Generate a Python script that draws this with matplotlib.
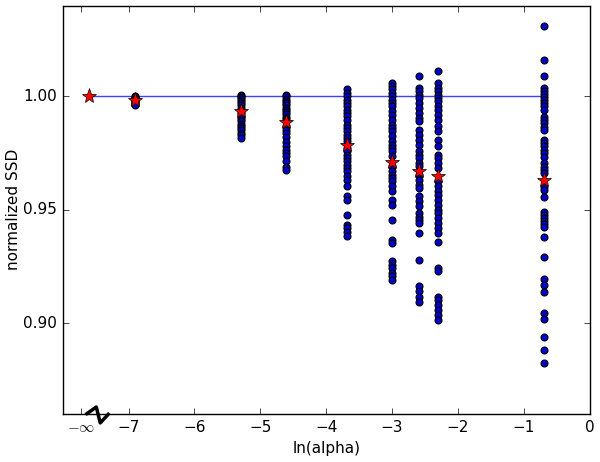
import numpy as np
import matplotlib
matplotlib.use('Agg')
import matplotlib.pyplot as plt
import matplotlib.transforms as mtransforms

# ln(alpha) de cada columna (alpha = 0 se dibuja en la posición de -inf)
x_inf = -7.6
x_cols = [np.log(0.001), np.log(0.005), np.log(0.01), np.log(0.025),
          np.log(0.05), np.log(0.075), np.log(0.1), np.log(0.5)]

# SSD normalizado de cada corrida, por columna
ssd_0001 = [1.000, 0.9998, 0.9995, 0.999, 0.9985, 0.998, 0.9975, 0.997, 0.9965, 0.996]
ssd_0005 = [1.0005, 1.000, 0.9995, 0.999, 0.998, 0.997, 0.996, 0.995, 0.994, 0.993,
            0.992, 0.991, 0.990, 0.989, 0.988, 0.987, 0.986, 0.985, 0.984, 0.983, 0.9815]
ssd_001 = [1.0005, 1.000, 0.999, 0.998, 0.997, 0.996, 0.995, 0.994, 0.993, 0.992,
           0.991, 0.990, 0.989, 0.9868, 0.9853, 0.984, 0.982, 0.980, 0.978, 0.9765,
           0.975, 0.9735, 0.9715, 0.969, 0.9675]
ssd_0025 = [1.003, 1.0015, 1.000, 0.9985, 0.9971, 0.9956, 0.9941, 0.9926, 0.9912, 0.9897,
            0.9875, 0.9861, 0.9846, 0.9831, 0.9816, 0.9801, 0.9772, 0.9757, 0.9743, 0.9728,
            0.9713, 0.9699, 0.9684, 0.9669, 0.9647, 0.9632, 0.9603, 0.9559, 0.9541, 0.9478,
            0.9434, 0.942, 0.940, 0.9385]
ssd_005 = [1.0059, 1.0044, 1.003, 1.0015, 1.000, 0.9985, 0.9971, 0.9956, 0.9934, 0.9919,
           0.9897, 0.9875, 0.9861, 0.9846, 0.9823, 0.9801, 0.9787, 0.9772, 0.9757, 0.9735,
           0.9691, 0.9669, 0.9654, 0.964, 0.9625, 0.9603, 0.9581, 0.9544, 0.9522, 0.9456,
           0.9368, 0.9353, 0.9272, 0.9257, 0.9243, 0.9221, 0.9206, 0.9191]
ssd_0075 = [1.0088, 1.0037, 1.0022, 1.0007, 0.9993, 0.9971, 0.9949, 0.9927, 0.9905, 0.989,
            0.9853, 0.9831, 0.9809, 0.9787, 0.9757, 0.9743, 0.9728, 0.9706, 0.9691, 0.9654,
            0.9632, 0.961, 0.9596, 0.9559, 0.9537, 0.9515, 0.9485, 0.947, 0.9456, 0.9441,
            0.9397, 0.9279, 0.9162, 0.914, 0.9117, 0.9095]
ssd_01 = [1.011, 1.0059, 1.0037, 1.0022, 1.0007, 0.9993, 0.9978, 0.9956, 0.9941, 0.9919,
          0.9897, 0.9868, 0.9846, 0.9809, 0.9779, 0.9743, 0.9728, 0.9706, 0.9684, 0.9625,
          0.9603, 0.9581, 0.9566, 0.9544, 0.9522, 0.950, 0.9485, 0.9463, 0.9441, 0.9419,
          0.9397, 0.9356, 0.9243, 0.9228, 0.9117, 0.9103, 0.9081, 0.9059, 0.9037, 0.9015]
ssd_05 = [1.0312, 1.0162, 1.0088, 1.0038, 1.0025, 1.0012, 0.9999, 0.9985, 0.9972, 0.9959,
          0.9941, 0.991, 0.9897, 0.9883, 0.9866, 0.9853, 0.9809, 0.9796, 0.9782, 0.9764,
          0.9751, 0.9734, 0.9707, 0.9689, 0.9676, 0.9663, 0.9602, 0.9588, 0.9557, 0.9491,
          0.9478, 0.9465, 0.9451, 0.9438, 0.9425, 0.9381, 0.9293, 0.9195, 0.9169, 0.9138,
          0.9045, 0.9019, 0.894, 0.8883, 0.8825]
ssd_cols = [ssd_0001, ssd_0005, ssd_001, ssd_0025, ssd_005, ssd_0075, ssd_01, ssd_05]

# media de cada columna (estrellas rojas)
mean_inf = 1.000
mean_cols = [0.9985, 0.9935, 0.9885, 0.9787, 0.9709, 0.9672, 0.9647, 0.9632]

# ticks del eje x
x_ticks = [-7.72, -7, -6, -5, -4, -3, -2, -1, 0]
x_labels = [r'$-\infty$', '−7', '−6', '−5', '−4', '−3', '−2', '−1', '0']

plt.style.use('classic')
plt.rcParams['font.size'] = 11

fig = plt.figure(figsize=(6, 4.62), dpi=100, facecolor='white')
ax = fig.add_axes([0.1045, 0.104, 0.8785, 0.884])

# línea de referencia en 1.0
line_x = [x_inf] + x_cols
ax.plot([line_x[0], line_x[-1]], [1.0, 1.0], '-', color='#4040ff', lw=1)

# puntos de cada corrida
for xc, vals in zip(x_cols, ssd_cols):
    ax.plot([xc] * len(vals), vals, 'o', color='#0000cc', markersize=5,
            markeredgecolor='k', markeredgewidth=0.8)

# medias
ax.plot([x_inf] + x_cols, [mean_inf] + mean_cols, '*', color='#ff0000',
        markersize=11, markeredgecolor='k', markeredgewidth=0.5)

ax.set_xlim(-8, 0)
ax.set_ylim(0.86, 1.04)
ax.set_xticks(x_ticks)
ax.set_xticklabels(x_labels)
ax.set_yticks([0.90, 0.95, 1.00])
ax.set_yticklabels(['0.90', '0.95', '1.00'])
ax.set_xlabel('ln(alpha)')
ax.set_ylabel('normalized SSD')
ax.yaxis.set_label_coords(-0.079, 0.5)

# marca de corte del eje x
trans = mtransforms.blended_transform_factory(ax.transData, ax.transAxes)
ax.plot([-7.63, -7.49, -7.43, -7.31], [0.001, 0.017, -0.022, -0.001],
        'k-', lw=2.5, transform=trans, clip_on=False)

fig.savefig('out.png', dpi=100, facecolor='white')
